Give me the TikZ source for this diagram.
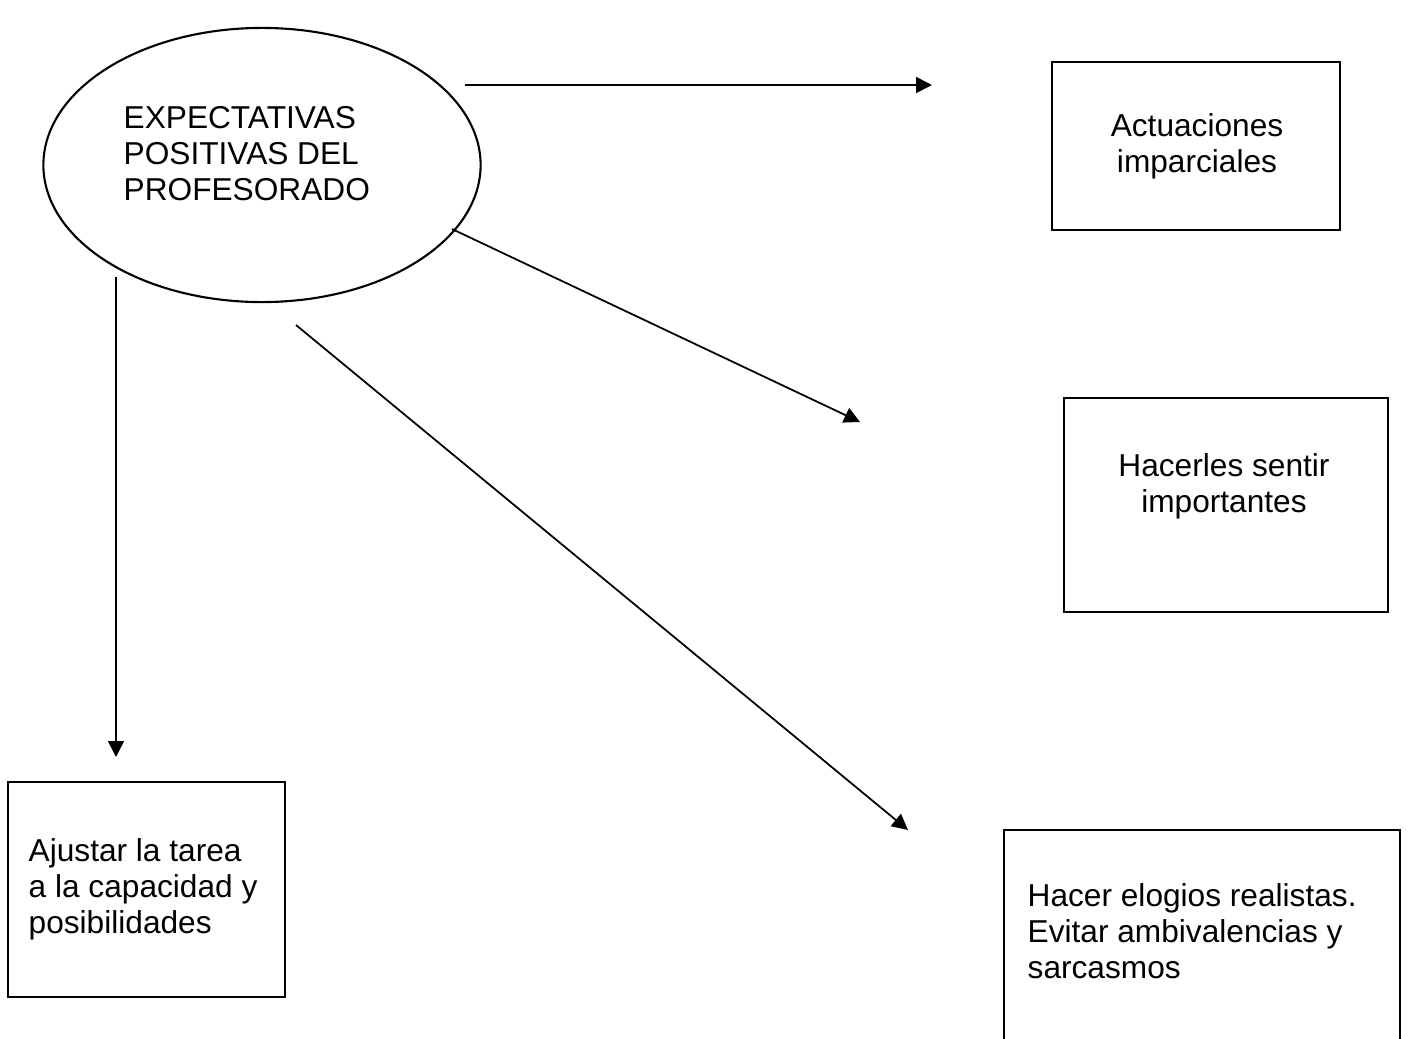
\documentclass[tikz,border=0pt]{standalone}
\usepackage{fontspec}
\setmainfont{Liberation Sans}
\usetikzlibrary{shapes.geometric,arrows.meta}
\tikzset{
  box/.style={draw,line width=0.6pt,inner sep=0pt},
  txt/.style={inner sep=0pt,font=\fontsize{9pt}{10.1pt}\selectfont},
  arr/.style={line width=0.5pt,-{Triangle[length=4.5pt,width=4.5pt]}}
}
\begin{document}
\begin{tikzpicture}[x=0.01cm,y=-0.01cm]
\clip (0,0) rectangle (1408,1039);
\node[box,ellipse,minimum width=4.37cm,minimum height=2.74cm] (expect) at (262,165) {};
\node[box,minimum width=2.88cm,minimum height=1.68cm] (actbox) at (1196,146) {};
\node[box,minimum width=3.24cm,minimum height=2.14cm] (sentbox) at (1226,505) {};
\node[box,minimum width=3.96cm,minimum height=2.30cm] (elogbox) at (1202,945) {};
\node[box,minimum width=2.77cm,minimum height=2.15cm] (ajusbox) at (146.5,889.5) {};
\node[txt,anchor=base west,align=left] (exptxt) at (123,200) {EXPECTATIVAS\\POSITIVAS DEL\\PROFESORADO};
\node[txt,anchor=base,align=center] (acttxt) at (1197,172) {Actuaciones\\imparciales};
\node[txt,anchor=base,align=center] (senttxt) at (1224,512) {Hacerles sentir\\importantes};
\node[txt,anchor=base west,align=left] (elogtxt) at (1027,978) {Hacer elogios realistas.\\Evitar ambivalencias y\\sarcasmos};
\node[txt,anchor=base west,align=left] (ajustxt) at (28,933) {Ajustar la tarea\\a la capacidad y\\posibilidades};
\coordinate (s1) at (465,85);  \coordinate (e1) at (932,85);
\coordinate (s2) at (452,229); \coordinate (e2) at (860,422);
\coordinate (s3) at (296,325); \coordinate (e3) at (908,830);
\coordinate (s4) at (116,277); \coordinate (e4) at (116,757);
\foreach \a/\b in {s1/e1, s2/e2, s3/e3, s4/e4}
    \draw[arr] (\a) -- (\b);
\end{tikzpicture}
\end{document}
